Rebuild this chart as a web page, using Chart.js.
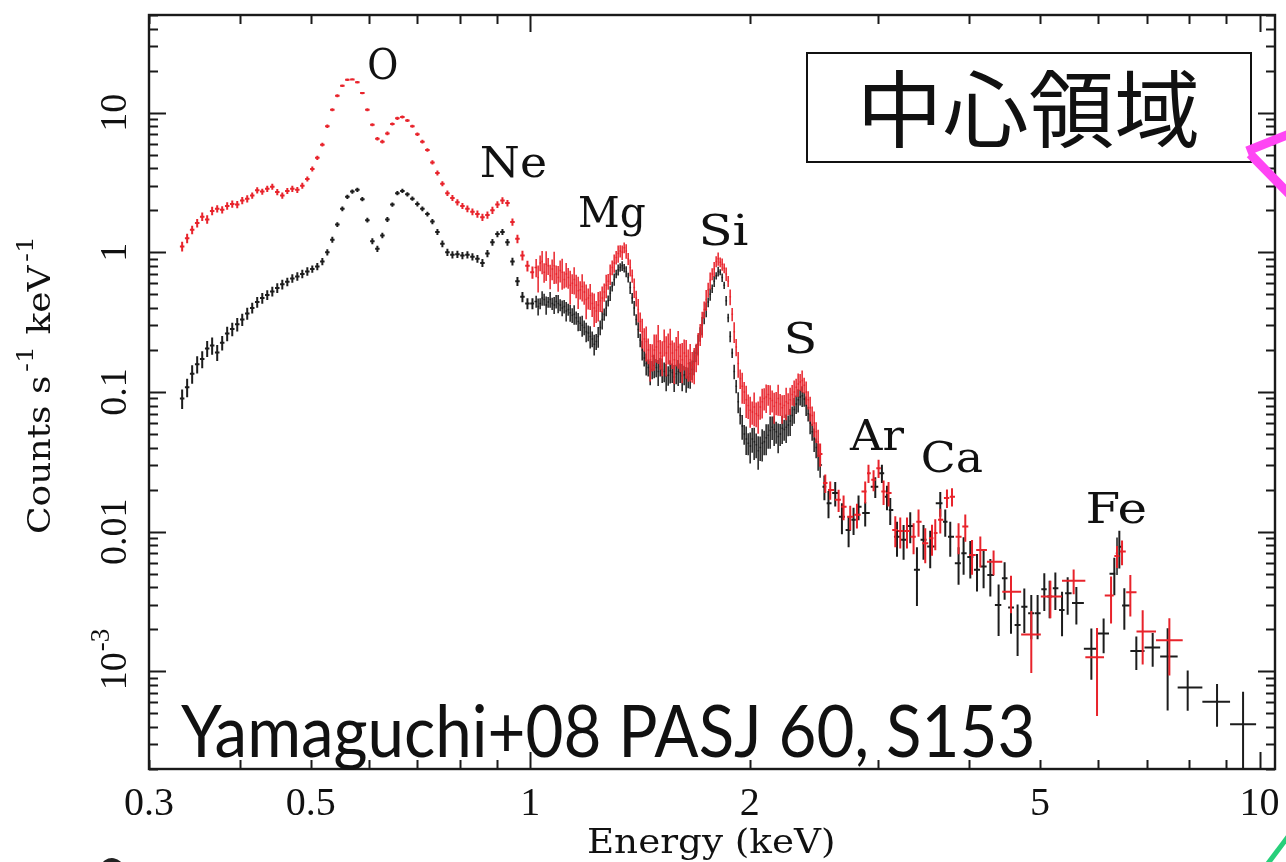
<!DOCTYPE html>
<html>
<head>
<meta charset="utf-8">
<script src="https://cdn.jsdelivr.net/npm/chart.js@4.4.1/dist/chart.umd.min.js"></script>
<style>
  html, body { margin: 0; padding: 0; background: #ffffff; }
  #wrap { width: 1286px; height: 862px; position: relative; overflow: hidden; }
</style>
</head>
<body>
<div id="wrap"><canvas id="spec" width="1286" height="862"></canvas></div>
<script>
// ---- Spectrum data (keV, counts s^-1 keV^-1, fractional 1-sigma error) ----

// Soft band binning, 0.33 - 1.0 keV
const softEnergy = [
  0.3331, 0.3384, 0.3438, 0.3493, 0.3549, 0.3605, 0.3662, 0.3721, 0.3780, 0.3840,
  0.3902, 0.3964, 0.4027, 0.4091, 0.4156, 0.4222, 0.4290, 0.4358, 0.4428, 0.4498,
  0.4570, 0.4643, 0.4717, 0.4792, 0.4868, 0.4946, 0.5024, 0.5104, 0.5186, 0.5268,
  0.5352, 0.5437, 0.5524, 0.5612, 0.5701, 0.5792, 0.5884, 0.5978, 0.6073, 0.6170,
  0.6268, 0.6368, 0.6469, 0.6572, 0.6677, 0.6783, 0.6891, 0.7001, 0.7112, 0.7226,
  0.7341, 0.7458, 0.7576, 0.7697, 0.7820, 0.7944, 0.8071, 0.8199, 0.8330, 0.8462,
  0.8597, 0.8734, 0.8873, 0.9014, 0.9158, 0.9304, 0.9452, 0.9602, 0.9755, 0.9910,
  1.0068
];
// Middle band binning, 1.0 - 2.5 keV
const midEnergy = [
  1.0186, 1.0250, 1.0315, 1.0380, 1.0446, 1.0513, 1.0579, 1.0646, 1.0714, 1.0782,
  1.0850, 1.0919, 1.0988, 1.1058, 1.1128, 1.1199, 1.1270, 1.1341, 1.1413, 1.1485,
  1.1558, 1.1631, 1.1705, 1.1779, 1.1854, 1.1929, 1.2005, 1.2081, 1.2157, 1.2234,
  1.2312, 1.2390, 1.2468, 1.2547, 1.2627, 1.2707, 1.2787, 1.2868, 1.2950, 1.3032,
  1.3114, 1.3197, 1.3281, 1.3365, 1.3450, 1.3535, 1.3621, 1.3707, 1.3794, 1.3881,
  1.3969, 1.4058, 1.4147, 1.4237, 1.4327, 1.4418, 1.4509, 1.4601, 1.4693, 1.4786,
  1.4880, 1.4974, 1.5069, 1.5165, 1.5261, 1.5357, 1.5455, 1.5553, 1.5651, 1.5750,
  1.5850, 1.5950, 1.6051, 1.6153, 1.6255, 1.6358, 1.6462, 1.6566, 1.6671, 1.6777,
  1.6883, 1.6990, 1.7098, 1.7206, 1.7315, 1.7425, 1.7535, 1.7646, 1.7758, 1.7870,
  1.7983, 1.8097, 1.8212, 1.8327, 1.8443, 1.8560, 1.8678, 1.8796, 1.8915, 1.9035,
  1.9155, 1.9277, 1.9399, 1.9522, 1.9645, 1.9770, 1.9895, 2.0021, 2.0148, 2.0275,
  2.0404, 2.0533, 2.0663, 2.0794, 2.0925, 2.1058, 2.1191, 2.1325, 2.1460, 2.1596,
  2.1733, 2.1871, 2.2009, 2.2149, 2.2289, 2.2430, 2.2572, 2.2715, 2.2859, 2.3004,
  2.3149, 2.3296, 2.3443, 2.3592, 2.3741, 2.3892, 2.4043, 2.4195, 2.4348, 2.4503,
  2.4658, 2.4814, 2.4971
];

// Red spectrum
const redSoftRate = [
  1.10, 1.26, 1.45, 1.62, 1.80, 1.72, 1.98, 2.05, 2.02, 2.15,
  2.22, 2.20, 2.35, 2.42, 2.55, 2.78, 2.72, 2.85, 2.95, 2.70,
  2.55, 2.75, 2.85, 2.80, 3.00, 3.35, 3.95, 4.75, 5.90, 8.0,
  10.5, 13.2, 15.6, 17.2, 17.3, 16.5, 13.8, 10.5, 8.2, 6.5,
  6.2, 7.1, 8.3, 9.1, 9.3, 8.8, 8.0, 7.0, 6.2, 5.4,
  4.4, 3.7, 3.1, 2.65, 2.45, 2.28, 2.15, 2.05, 1.95, 1.88,
  1.78, 1.85, 2.0, 2.2, 2.35, 2.25, 1.65, 1.25, 0.95, 0.80,
  0.72
];
const redSoftErr = [
  0.08, 0.08, 0.07, 0.07, 0.07, 0.07, 0.07, 0.06, 0.06, 0.06,
  0.06, 0.06, 0.06, 0.06, 0.05, 0.05, 0.05, 0.05, 0.05, 0.05,
  0.05, 0.05, 0.05, 0.05, 0.05, 0.04, 0.04, 0.035, 0.03, 0.03,
  0.025, 0.025, 0.02, 0.02, 0.02, 0.02, 0.02, 0.025, 0.025, 0.03,
  0.03, 0.03, 0.025, 0.025, 0.025, 0.025, 0.025, 0.03, 0.03, 0.03,
  0.035, 0.04, 0.04, 0.045, 0.05, 0.05, 0.05, 0.055, 0.055, 0.06,
  0.06, 0.06, 0.06, 0.055, 0.055, 0.055, 0.06, 0.07, 0.08, 0.09,
  0.10
];
const redMidRate = [
  0.78, 0.66, 0.84, 0.86, 0.72, 0.82, 0.80, 0.68, 0.76, 0.80,
  0.70, 0.66, 0.74, 0.72, 0.64, 0.70, 0.66, 0.58, 0.60, 0.64,
  0.58, 0.53, 0.54, 0.57, 0.52, 0.46, 0.47, 0.49, 0.43, 0.40,
  0.38, 0.42, 0.45, 0.47, 0.52, 0.58, 0.62, 0.70, 0.78, 0.84,
  0.92, 0.98, 1.02, 1.00, 1.08, 1.02, 0.90, 0.78, 0.68, 0.56,
  0.47, 0.39, 0.32, 0.27, 0.24, 0.23, 0.20, 0.17, 0.18, 0.20,
  0.21, 0.23, 0.19, 0.18, 0.23, 0.19, 0.21, 0.22, 0.19, 0.17,
  0.20, 0.21, 0.18, 0.17, 0.19, 0.18, 0.16, 0.17, 0.155, 0.16,
  0.18, 0.21, 0.26, 0.31, 0.39, 0.46, 0.54, 0.63, 0.70, 0.76,
  0.86, 0.90, 0.85, 0.82, 0.77, 0.70, 0.62, 0.48, 0.36, 0.27,
  0.21, 0.16, 0.125, 0.11, 0.10, 0.088, 0.080, 0.074, 0.072, 0.078,
  0.070, 0.068, 0.078, 0.085, 0.090, 0.092, 0.096, 0.090, 0.087, 0.079,
  0.084, 0.090, 0.082, 0.077, 0.080, 0.085, 0.083, 0.088, 0.096, 0.100,
  0.108, 0.114, 0.118, 0.121, 0.112, 0.100, 0.088, 0.077, 0.068, 0.060,
  0.052, 0.044, 0.036
];
const redMidErr = [
  0.15, 0.22, 0.13, 0.19, 0.16, 0.24, 0.14, 0.20, 0.17, 0.26,
  0.15, 0.21, 0.18, 0.25, 0.14, 0.20, 0.17, 0.27, 0.16, 0.22,
  0.19, 0.26, 0.15, 0.22, 0.19, 0.28, 0.17, 0.21, 0.20, 0.27,
  0.18, 0.24, 0.17, 0.21, 0.15, 0.19, 0.13, 0.17, 0.12, 0.15,
  0.11, 0.14, 0.10, 0.12, 0.09, 0.12, 0.10, 0.14, 0.11, 0.16,
  0.13, 0.19, 0.16, 0.24, 0.19, 0.28, 0.21, 0.30, 0.22, 0.29,
  0.23, 0.31, 0.24, 0.28, 0.22, 0.32, 0.25, 0.29, 0.23, 0.33,
  0.24, 0.30, 0.23, 0.32, 0.25, 0.31, 0.26, 0.30, 0.25, 0.29,
  0.23, 0.26, 0.18, 0.21, 0.14, 0.17, 0.12, 0.14, 0.10, 0.12,
  0.09, 0.11, 0.08, 0.10, 0.08, 0.11, 0.09, 0.13, 0.11, 0.17,
  0.14, 0.21, 0.16, 0.25, 0.18, 0.26, 0.20, 0.25, 0.19, 0.27,
  0.20, 0.26, 0.19, 0.24, 0.18, 0.23, 0.17, 0.24, 0.18, 0.25,
  0.19, 0.25, 0.18, 0.23, 0.19, 0.26, 0.18, 0.22, 0.17, 0.21,
  0.15, 0.19, 0.14, 0.18, 0.13, 0.19, 0.15, 0.20, 0.16, 0.21,
  0.17, 0.22, 0.19
];

// Black spectrum
const blackSoftRate = [
  0.090, 0.108, 0.135, 0.158, 0.172, 0.205, 0.215, 0.192, 0.225, 0.262,
  0.282, 0.305, 0.330, 0.365, 0.400, 0.440, 0.470, 0.495, 0.525, 0.555,
  0.590, 0.615, 0.650, 0.672, 0.700, 0.730, 0.760, 0.790, 0.860, 1.00,
  1.23, 1.58, 2.05, 2.50, 2.72, 2.80, 2.40, 1.70, 1.20, 1.06,
  1.32, 1.72, 2.20, 2.65, 2.75, 2.60, 2.42, 2.22, 2.05, 1.88,
  1.66, 1.40, 1.15, 1.00, 0.96, 0.97, 0.95, 0.96, 0.93, 0.90,
  0.84, 0.98, 1.18, 1.35, 1.40, 1.18, 0.86, 0.62, 0.48, 0.43,
  0.43
];
const blackSoftErr = [
  0.16, 0.15, 0.15, 0.14, 0.14, 0.13, 0.14, 0.13, 0.12, 0.12,
  0.11, 0.11, 0.10, 0.10, 0.09, 0.09, 0.09, 0.08, 0.08, 0.08,
  0.08, 0.07, 0.07, 0.07, 0.07, 0.07, 0.06, 0.06, 0.06, 0.05,
  0.05, 0.04, 0.04, 0.035, 0.035, 0.035, 0.035, 0.04, 0.05, 0.05,
  0.045, 0.04, 0.035, 0.035, 0.035, 0.035, 0.035, 0.04, 0.04, 0.04,
  0.045, 0.05, 0.055, 0.06, 0.06, 0.06, 0.06, 0.06, 0.06, 0.065,
  0.065, 0.06, 0.055, 0.05, 0.05, 0.055, 0.065, 0.075, 0.085, 0.09,
  0.09
];
const blackMidRate = [
  0.445, 0.41, 0.43, 0.47, 0.46, 0.42, 0.44, 0.46, 0.43, 0.42,
  0.445, 0.43, 0.42, 0.40, 0.41, 0.38, 0.39, 0.37, 0.355, 0.36,
  0.34, 0.32, 0.31, 0.30, 0.29, 0.27, 0.265, 0.25, 0.24, 0.22,
  0.23, 0.25, 0.29, 0.33, 0.36, 0.40, 0.45, 0.51, 0.57, 0.64,
  0.70, 0.75, 0.78, 0.80, 0.77, 0.73, 0.66, 0.56, 0.47, 0.40,
  0.33, 0.28, 0.235, 0.20, 0.175, 0.16, 0.15, 0.14, 0.145, 0.155,
  0.15, 0.14, 0.152, 0.145, 0.14, 0.13, 0.132, 0.142, 0.138, 0.128,
  0.135, 0.14, 0.138, 0.13, 0.133, 0.125, 0.128, 0.135, 0.145, 0.165,
  0.19, 0.22, 0.26, 0.30, 0.34, 0.39, 0.44, 0.50, 0.55, 0.62,
  0.68, 0.73, 0.72, 0.66, 0.58, 0.45, 0.34, 0.25, 0.19, 0.14,
  0.11, 0.085, 0.068, 0.057, 0.050, 0.046, 0.043, 0.041, 0.046, 0.044,
  0.042, 0.038, 0.040, 0.043, 0.044, 0.047, 0.049, 0.053, 0.056, 0.054,
  0.052, 0.048, 0.050, 0.055, 0.054, 0.056, 0.058, 0.062, 0.068, 0.075,
  0.082, 0.088, 0.092, 0.094, 0.089, 0.080, 0.070, 0.060, 0.052, 0.046,
  0.040, 0.035, 0.030
];
const blackMidErr = [
  0.10, 0.14, 0.09, 0.12, 0.10, 0.15, 0.09, 0.13, 0.10, 0.14,
  0.11, 0.15, 0.10, 0.13, 0.11, 0.16, 0.10, 0.14, 0.12, 0.16,
  0.11, 0.15, 0.12, 0.17, 0.12, 0.16, 0.13, 0.18, 0.13, 0.17,
  0.13, 0.17, 0.12, 0.15, 0.10, 0.13, 0.09, 0.12, 0.08, 0.10,
  0.07, 0.09, 0.07, 0.08, 0.07, 0.09, 0.08, 0.10, 0.09, 0.12,
  0.09, 0.13, 0.11, 0.16, 0.13, 0.18, 0.14, 0.20, 0.15, 0.19,
  0.15, 0.21, 0.15, 0.20, 0.16, 0.22, 0.16, 0.19, 0.16, 0.22,
  0.16, 0.21, 0.16, 0.22, 0.16, 0.21, 0.17, 0.22, 0.16, 0.20,
  0.14, 0.17, 0.12, 0.15, 0.10, 0.12, 0.08, 0.10, 0.07, 0.09,
  0.06, 0.08, 0.05, 0.07, 0.06, 0.08, 0.07, 0.09, 0.08, 0.12,
  0.11, 0.17, 0.14, 0.20, 0.16, 0.23, 0.18, 0.25, 0.20, 0.26,
  0.20, 0.27, 0.20, 0.26, 0.20, 0.25, 0.20, 0.26, 0.19, 0.24,
  0.18, 0.24, 0.18, 0.23, 0.17, 0.23, 0.17, 0.22, 0.16, 0.21,
  0.15, 0.19, 0.13, 0.17, 0.12, 0.16, 0.12, 0.17, 0.14, 0.19,
  0.16, 0.22, 0.19
];

// Coarser bins above 2.5 keV
const redTailEnergy = [
  2.538, 2.578, 2.647, 2.689, 2.746, 2.805, 2.879, 2.909, 2.956, 3.003,
  3.051, 3.099, 3.166, 3.216, 3.285, 3.354, 3.407, 3.480, 3.555, 3.592,
  3.649, 3.727, 3.787, 3.866, 3.949, 4.034, 4.141, 4.318, 4.562, 4.864,
  5.166, 5.560, 5.986, 6.257, 6.376, 6.478, 6.650, 6.914, 7.522
];
const redTailRate = [
  0.0223, 0.0199, 0.0169, 0.0151, 0.0128, 0.0132, 0.0194, 0.0262, 0.0235, 0.0285,
  0.0194, 0.0189, 0.0103, 0.0101, 0.0101, 0.0092, 0.0118, 0.00827, 0.00898, 0.0098,
  0.01215, 0.0174, 0.0178, 0.0092, 0.01088, 0.00682, 0.0074, 0.0061, 0.00372, 0.00184,
  0.00343, 0.00446, 0.00126, 0.00349, 0.0067, 0.0072, 0.00368, 0.00193, 0.00167
];
const redTailErr = [
  0.15, 0.15, 0.18, 0.20, 0.20, 0.20, 0.18, 0.15, 0.17, 0.15,
  0.20, 0.20, 0.25, 0.25, 0.25, 0.25, 0.22, 0.28, 0.25, 0.25,
  0.20, 0.15, 0.15, 0.25, 0.22, 0.28, 0.25, 0.20, 0.30, 0.47,
  0.30, 0.20, 0.62, 0.37, 0.18, 0.20, 0.33, 0.42, 0.44
];

const blackTailEnergy = [
  2.531, 2.564, 2.619, 2.675, 2.732, 2.775, 2.819, 2.879, 2.972, 3.035,
  3.084, 3.116, 3.183, 3.250, 3.319, 3.390, 3.461, 3.535, 3.649, 3.707,
  3.766, 3.866, 3.928, 4.012, 4.098, 4.184, 4.274, 4.387, 4.471, 4.562,
  4.658, 4.758, 4.864, 4.962, 5.068, 5.154, 5.248, 5.360, 5.456, 5.608,
  5.880, 6.112, 6.322, 6.376, 6.423, 6.525, 6.777, 7.136, 7.481, 7.970,
  8.744, 9.493
];
const blackTailRate = [
  0.021, 0.016, 0.0189, 0.0128, 0.0103, 0.01215, 0.0151, 0.0136, 0.021, 0.0262,
  0.0178, 0.0143, 0.0092, 0.00874, 0.011, 0.00533, 0.00874, 0.00782, 0.016, 0.0118,
  0.0092, 0.00595, 0.00701, 0.0066, 0.00533, 0.00563, 0.0049, 0.00299, 0.00465, 0.00286,
  0.00215, 0.0029, 0.00261, 0.00261, 0.00387, 0.00343, 0.00393, 0.00275, 0.00363, 0.00309,
  0.00145, 0.00187, 0.0050, 0.0070, 0.0078, 0.00296, 0.0014, 0.00148, 0.00128, 0.000767,
  0.000607, 0.000418
];
const blackTailErr = [
  0.20, 0.22, 0.20, 0.25, 0.25, 0.22, 0.20, 0.20, 0.17, 0.15,
  0.20, 0.22, 0.28, 0.28, 0.25, 0.45, 0.28, 0.30, 0.20, 0.22,
  0.28, 0.30, 0.30, 0.30, 0.30, 0.30, 0.30, 0.40, 0.30, 0.35,
  0.40, 0.35, 0.35, 0.35, 0.30, 0.30, 0.30, 0.35, 0.30, 0.30,
  0.40, 0.28, 0.30, 0.30, 0.30, 0.33, 0.27, 0.27, 0.59, 0.32,
  0.34, 0.71
];

// Axis labelling
const xTickValues = [0.3, 0.5, 1, 2, 5, 10];
const xTickLabels = ['0.3', '0.5', '1', '2', '5', '10'];
const yTickValues = [10, 1, 0.1, 0.01, 0.001];
const yTickLabels = ['10', '1', '0.1', '0.01', '10^-3'];

// Emission line names
const lineNames = ['O', 'Ne', 'Mg', 'Si', 'S', 'Ar', 'Ca', 'Fe'];

// ---- Assemble series ----
const redEnergy = softEnergy.concat(midEnergy, redTailEnergy);
const redRate = redSoftRate.concat(redMidRate, redTailRate);
const redErr = redSoftErr.concat(redMidErr, redTailErr);
const blackEnergy = softEnergy.concat(midEnergy, blackTailEnergy);
const blackRate = blackSoftRate.concat(blackMidRate, blackTailRate);
const blackErr = blackSoftErr.concat(blackMidErr, blackTailErr);

const toPoints = (xs, ys) => xs.map((x, i) => ({ x: x, y: ys[i] }));

const series = [
  { energy: blackEnergy, rate: blackRate, err: blackErr, color: '#1c1c1c' },
  { energy: redEnergy, rate: redRate, err: redErr, color: '#e8232b' }
];

// ---- Layout / style constants ----
const INK = '#111111';
const serif = '"Liberation Serif", "DejaVu Serif", serif';
const labelSerif = '"DejaVu Serif", "Liberation Serif", serif';
const lineLabelPos = [[369, 79], [482, 177], [580, 227], [702, 245], [787, 353], [849, 450], [923, 472], [1088, 523]];
const lineLabelInk = [28, 63, 65, 46, 27, 56, 59, 57];

function drawCrosses(chart, s) {
  const ctx = chart.ctx, xs = chart.scales.x, ys = chart.scales.y, area = chart.chartArea;
  const n = s.energy.length;
  const px = s.energy.map(e => xs.getPixelForValue(e));
  const thin = new Path2D(), thick = new Path2D();
  for (let i = 0; i < n; i++) {
    const x = px[i];
    let left = i > 0 ? (x - px[i - 1]) / 2 : (px[i + 1] - x) / 2;
    let right = i < n - 1 ? (px[i + 1] - x) / 2 : left;
    const dense = (left + right) < 3.5;
    const k = (left + right) < 10 ? 0.9 : 1.0;
    left *= k; right *= k;
    const v = s.rate[i], r = s.err[i];
    const y = ys.getPixelForValue(v);
    const yHi = ys.getPixelForValue(v * (1 + r));
    const lo = v * (1 - r);
    const yLo = lo > 0 ? ys.getPixelForValue(lo) : area.bottom + 20;
    const p = dense ? thin : thick;
    p.moveTo(x - left, y); p.lineTo(x + right, y);
    p.moveTo(x, Math.min(yHi, y - 1.2)); p.lineTo(x, Math.max(yLo, y + 1.2));
  }
  ctx.save();
  ctx.beginPath();
  ctx.rect(area.left, area.top, area.right - area.left, area.bottom - area.top);
  ctx.clip();
  ctx.strokeStyle = s.color;
  ctx.lineCap = 'butt';
  ctx.lineWidth = 1.5;
  ctx.stroke(thin);
  ctx.lineWidth = 2;
  ctx.stroke(thick);
  ctx.restore();
}

// Draw text so that its ink spans a given width, starting at inkLeft on a baseline
function inkText(ctx, text, inkLeft, baseline, font, inkWidth) {
  ctx.save();
  ctx.font = font;
  ctx.textAlign = 'left';
  ctx.textBaseline = 'alphabetic';
  const m = ctx.measureText(text);
  const w = m.actualBoundingBoxLeft + m.actualBoundingBoxRight;
  const s = inkWidth / w;
  ctx.translate(inkLeft + m.actualBoundingBoxLeft * s, baseline);
  ctx.scale(s, 1);
  ctx.fillText(text, 0, 0);
  ctx.restore();
}

function drawAxes(chart) {
  const ctx = chart.ctx, xs = chart.scales.x, ys = chart.scales.y, a = chart.chartArea;
  ctx.save();
  ctx.strokeStyle = '#1a1a1a';
  ctx.fillStyle = INK;

  // ticks (inward on all four sides)
  ctx.lineWidth = 2;
  ctx.beginPath();
  const xMin = xs.min, xMax = xs.max;
  for (let d = -1; d <= 1; d++) {
    for (let m = 1; m <= 9; m++) {
      const v = m * Math.pow(10, d);
      if (v < xMin * 0.999 || v > xMax) continue;
      const x = Math.round(xs.getPixelForValue(v)) + 0.5;
      const len = m === 1 ? 17 : 9;
      ctx.moveTo(x, a.bottom); ctx.lineTo(x, a.bottom - len);
      ctx.moveTo(x, a.top); ctx.lineTo(x, a.top + len);
    }
  }
  const yMin = ys.min, yMax = ys.max;
  for (let d = -4; d <= 1; d++) {
    for (let m = 1; m <= 9; m++) {
      const v = m * Math.pow(10, d);
      if (v < yMin * 0.999 || v > yMax) continue;
      const y = Math.round(ys.getPixelForValue(v)) + 0.5;
      const len = m === 1 ? 17 : 9;
      ctx.moveTo(a.left, y); ctx.lineTo(a.left + len, y);
      ctx.moveTo(a.right, y); ctx.lineTo(a.right - len, y);
    }
  }
  ctx.stroke();

  // frame
  ctx.lineWidth = 2.4;
  ctx.strokeRect(a.left, a.top, a.right - a.left, a.bottom - a.top);

  // x tick labels
  ctx.font = '40px ' + serif;
  ctx.textAlign = 'center';
  ctx.textBaseline = 'alphabetic';
  xTickValues.forEach((v, i) => {
    ctx.fillText(xTickLabels[i], xs.getPixelForValue(v), 815);
  });

  // y tick labels (rotated)
  yTickValues.forEach((v, i) => {
    const y = ys.getPixelForValue(v);
    const lab = yTickLabels[i];
    ctx.save();
    ctx.translate(126, y);
    ctx.rotate(-Math.PI / 2);
    ctx.font = '38px ' + serif;
    ctx.textAlign = 'center';
    if (lab.indexOf('^') >= 0) {
      const parts = lab.split('^');
      ctx.fillText(parts[0], 0, 0);
      const w = ctx.measureText(parts[0]).width;
      ctx.font = '27px ' + serif;
      ctx.textAlign = 'left';
      ctx.fillText(parts[1], w / 2 + 1, -17);
    } else {
      ctx.fillText(lab, 0, 0);
    }
    ctx.restore();
  });

  // x axis title
  inkText(ctx, 'Energy (keV)', 588, 853, '34px ' + labelSerif, 245);

  // y axis title (rotated, with superscripts)
  ctx.save();
  ctx.translate(50, 534);
  ctx.rotate(-Math.PI / 2);
  const segs = [['Counts s', false], ['-1', true], [' keV', false], ['-1', true]];
  const fMain = '31px ' + labelSerif, fSup = '23px ' + labelSerif;
  let total = 0;
  segs.forEach(sg => { ctx.font = sg[1] ? fSup : fMain; total += ctx.measureText(sg[0]).width + (sg[1] ? 3 : 0); });
  const sx = 298 / total;
  ctx.scale(sx, 1);
  let cx = 0;
  ctx.textAlign = 'left';
  segs.forEach(sg => {
    ctx.font = sg[1] ? fSup : fMain;
    if (sg[1]) cx += 3;
    ctx.fillText(sg[0], cx, sg[1] ? -17 : 0);
    cx += ctx.measureText(sg[0]).width;
  });
  ctx.restore();

  ctx.restore();
}

function drawAnnotations(chart) {
  const ctx = chart.ctx;
  ctx.save();
  ctx.fillStyle = INK;

  // emission line names
  lineNames.forEach((t, i) => {
    inkText(ctx, t, lineLabelPos[i][0], lineLabelPos[i][1], '42px ' + labelSerif, lineLabelInk[i]);
  });

  // region box
  ctx.lineWidth = 2;
  ctx.strokeStyle = '#111111';
  ctx.strokeRect(807, 53, 444, 109);
  ctx.font = '84px "Noto Sans CJK JP", "Noto Sans CJK SC", sans-serif';
  const title = '中心領域';
  const m = ctx.measureText(title);
  const base = 109 + (m.actualBoundingBoxAscent - m.actualBoundingBoxDescent) / 2;
  inkText(ctx, title, 865, base, ctx.font, 332);

  // reference note
  inkText(ctx, 'Yamaguchi+08 PASJ 60, S153', 181, 757, '72px Lato, "Open Sans", sans-serif', 851);

  // arrow fragments at the right edge
  ctx.strokeStyle = '#ff45f4';
  ctx.lineWidth = 9;
  ctx.lineCap = 'butt';
  ctx.beginPath();
  ctx.moveTo(1247, 151); ctx.lineTo(1292, 133);
  ctx.moveTo(1250, 154); ctx.lineTo(1292, 197);
  ctx.stroke();

  ctx.strokeStyle = '#27cf7a';
  ctx.lineWidth = 5;
  ctx.beginPath();
  ctx.moveTo(1266, 866); ctx.lineTo(1290, 834);
  ctx.stroke();

  // partial glyph at the lower-left edge
  ctx.strokeStyle = '#222222';
  ctx.lineWidth = 4;
  ctx.beginPath();
  ctx.arc(112, 870, 10, Math.PI * 1.05, Math.PI * 1.95);
  ctx.stroke();
  ctx.restore();
}

const spectrumPlugin = {
  id: 'spectrumDecor',
  beforeDraw(chart) {
    const ctx = chart.ctx;
    ctx.save();
    ctx.fillStyle = '#ffffff';
    ctx.fillRect(0, 0, chart.width, chart.height);
    ctx.restore();
  },
  afterDatasetsDraw(chart) {
    series.forEach(s => drawCrosses(chart, s));
  },
  afterDraw(chart) {
    drawAxes(chart);
    drawAnnotations(chart);
  }
};

new Chart(document.getElementById('spec'), {
  type: 'scatter',
  data: {
    datasets: series.map((s, i) => ({
      label: i === 0 ? 'black' : 'red',
      data: toPoints(s.energy, s.rate),
      pointRadius: 0,
      borderColor: s.color,
      backgroundColor: s.color,
      showLine: false
    }))
  },
  options: {
    responsive: false,
    animation: false,
    devicePixelRatio: 1,
    events: [],
    layout: { padding: { left: 149, right: 11, top: 15, bottom: 93 } },
    scales: {
      x: { type: 'logarithmic', min: 0.3, max: 10.5, display: false },
      y: { type: 'logarithmic', min: 2e-4, max: 50, display: false }
    },
    plugins: { legend: { display: false }, tooltip: { enabled: false } }
  },
  plugins: [spectrumPlugin]
});
</script>
</body>
</html>
